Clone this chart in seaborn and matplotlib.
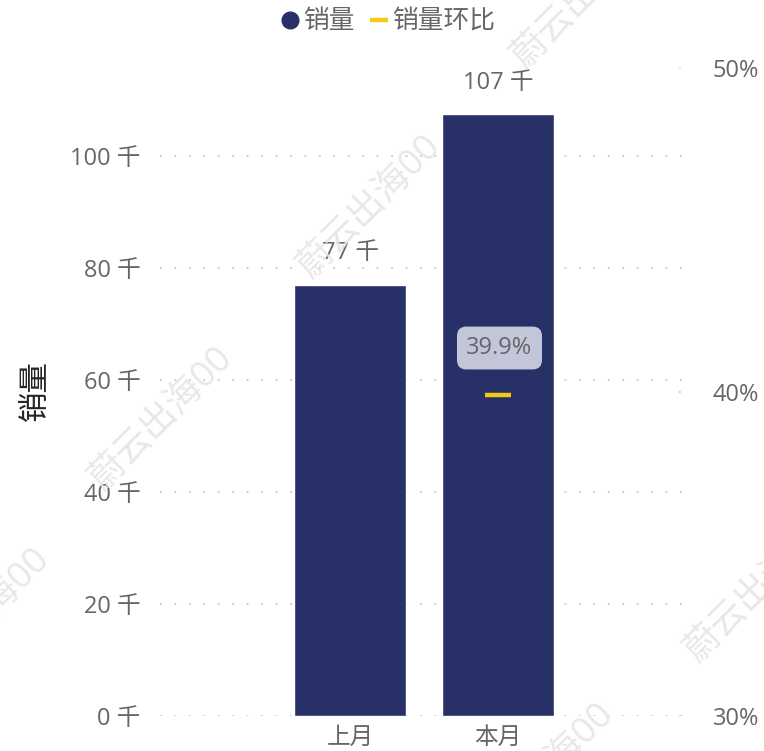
import matplotlib
matplotlib.use("Agg")
import matplotlib.pyplot as plt
import seaborn as sns
import pandas as pd
import numpy as np
from matplotlib.lines import Line2D

# ---- data ----
categories = ["上月", "本月"]
sales_k = [77.0, 107.4]          # 销量 (千)
mom_pct = [np.nan, 39.9]         # 销量环比 (%)
left_ticks = [0, 20, 40, 60, 80, 100]
right_ticks = [30, 40, 50]
legend_labels = ["销量", "销量环比"]
watermark = "蔚云出海00"

NAVY = "#283068"
YELLOW = "#F5CB11"
GREY_TXT = "#666666"
GRID = "#c8c8c8"

sns.set_theme(style="white")
plt.rcParams["font.family"] = ["Open Sans", "Noto Sans CJK SC", "DejaVu Sans"]

W, H = 764, 751
fig = plt.figure(figsize=(W / 100, H / 100), dpi=100)
L, R, B, T = 160, 692, 716, 68
ax = fig.add_axes([L / W, 1 - B / H, (R - L) / W, (B - T) / H])

df = pd.DataFrame({"cat": categories, "sales": sales_k, "mom": mom_pct})

# gridlines (behind)
for v in left_ticks:
    ax.axhline(v, color=GRID, lw=1.3, ls=(0, (1, 7)), zorder=0)

sns.barplot(data=df, x="cat", y="sales", color=NAVY, width=0.757,
            saturation=1, ax=ax, zorder=2)

ax.set_xlim(-1.284, 2.31)
ax.set_ylim(0, 115.7)
ax.set_yticks(left_ticks)
ax.set_yticklabels([f"{v} 千" for v in left_ticks])
ax.tick_params(axis="y", length=0, pad=14, labelsize=17, labelcolor=GREY_TXT)
ax.tick_params(axis="x", length=0, pad=7, labelsize=17, labelcolor=GREY_TXT)
ax.set_xlabel("")
ax.set_ylabel("销量", fontsize=22, color="#252423", rotation=90)
ax.yaxis.set_label_coords(-0.205, 0.503)
for s in ax.spines.values():
    s.set_visible(False)

# bar data labels
for i, v in enumerate(sales_k):
    ax.annotate(f"{v:.0f} 千", xy=(i, v), xytext=(0, 23), textcoords="offset points",
                ha="center", va="center", fontsize=17, color=GREY_TXT)

# secondary axis
ax2 = ax.twinx()
ax2.set_ylim(30, 50)
ax2.set_yticks(right_ticks)
ax2.set_yticklabels([f"{v}%" for v in right_ticks])
ax2.tick_params(axis="y", length=0, pad=15, labelsize=17, labelcolor=GREY_TXT)
for s in ax2.spines.values():
    s.set_visible(False)
for v in right_ticks:
    ax2.axhline(v, xmin=0.975, xmax=1.0, color=GRID, lw=1.3, ls=(0, (1, 7)), zorder=0)

sns.scatterplot(data=df, x="cat", y="mom", marker="_", s=330, linewidth=3.2,
                color=YELLOW, edgecolor=YELLOW, ax=ax2, zorder=5, legend=False)
ax2.set_xlim(-1.284, 2.31)
ax2.set_ylabel("")
ax2.set_xlabel("")
for i, v in enumerate(mom_pct):
    if not np.isnan(v):
        ax2.annotate(f"{v}%", xy=(i, v), xytext=(1, 34), textcoords="offset points",
                     ha="center", va="center", fontsize=17, color=GREY_TXT,
                     bbox=dict(boxstyle="round,pad=0.4,rounding_size=0.4",
                               fc="#c3c5d9", ec="none"))

# legend
handles = [
    Line2D([], [], marker="o", color=NAVY, ls="none", markersize=12),
    Line2D([], [], color=YELLOW, lw=3.2, solid_capstyle="butt"),
]
fig.legend(handles, legend_labels, loc="center", bbox_to_anchor=(388 / W, 1 - 22 / H),
           ncol=2, frameon=False, fontsize=18.5, handlelength=0.7, handletextpad=0.15,
           columnspacing=0.6, labelcolor=GREY_TXT)

# watermarks (start point = left of first char, pixel coords)
wm_pos = [(318, 258), (110, 470), (532, 48), (705, 642), (-73, 671), (491, 826)]
for (px, py) in wm_pos:
    sx, sy = px - 14, py + 14
    fig.text(sx / W, 1 - sy / H, watermark, rotation=45, rotation_mode="anchor",
             ha="left", va="center", fontsize=26, color="#e6e6e6", zorder=10, alpha=0.9)

fig.savefig("out.png", dpi=100)
